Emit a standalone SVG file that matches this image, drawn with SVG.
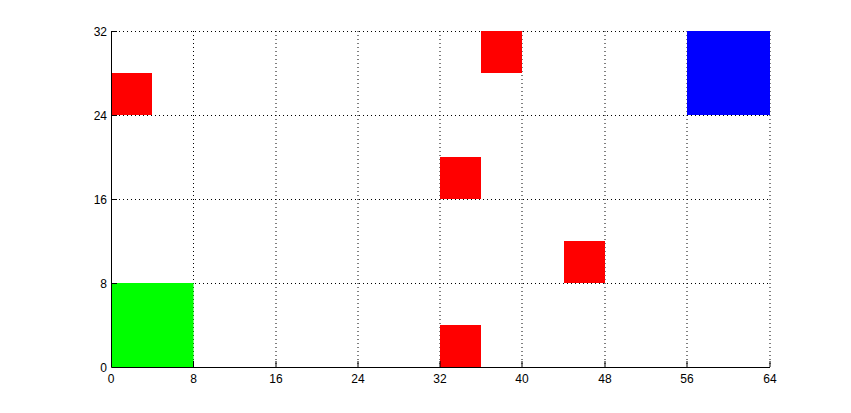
<svg xmlns="http://www.w3.org/2000/svg" width="851" height="413" viewBox="0 0 851 413">
<style>
.grid{stroke:#000;stroke-width:1;stroke-dasharray:1 3;fill:none}
.ax{stroke:#000;stroke-width:1;fill:none}
.t{font-family:"Liberation Sans",Arial,sans-serif;font-size:12px;fill:#000}
.r{fill:#ff0000}
</style>
<rect width="851" height="413" fill="#fff"/>
<g id="grid">
<path class="grid" d="M193.5 31V367M276 31V367M358 31V367M440 31V367M522 31V367M605 31V367M687 31V367M770 31V367"/>
<path class="grid" d="M111 31.5H770M111 115.5H770M111 199.5H770M111 283.5H770"/>
</g>
<g id="cells">
<rect id="green" x="111" y="283" width="82.5" height="84" fill="#00ff00"/>
<rect id="blue" x="687" y="31" width="83" height="84" fill="#0000ff"/>
<rect id="red1" class="r" x="111" y="73" width="41" height="42"/>
<rect id="red2" class="r" x="481" y="31" width="41" height="42"/>
<rect id="red3" class="r" x="440" y="157" width="41" height="42"/>
<rect id="red4" class="r" x="564" y="241" width="41" height="42"/>
<rect id="red5" class="r" x="440" y="325" width="41" height="42"/>
</g>
<g id="axes">
<path class="ax" d="M111.5 31V367.5H770"/>
<path class="ax" d="M193.5 367V361M276 367V361M358 367V361M440 367V361M522 367V361M605 367V361M687 367V361M770 367V361"/>
<path class="ax" d="M111 31.5H117M111 115.5H117M111 199.5H117M111 283.5H117"/>
</g>
<g id="labels" class="t">
<g text-anchor="middle">
<text x="111" y="383">0</text>
<text x="193.5" y="383">8</text>
<text x="276" y="383">16</text>
<text x="358" y="383">24</text>
<text x="440" y="383">32</text>
<text x="522" y="383">40</text>
<text x="605" y="383">48</text>
<text x="687" y="383">56</text>
<text x="770" y="383">64</text>
</g>
<g text-anchor="end">
<text x="107" y="372">0</text>
<text x="107" y="288">8</text>
<text x="107" y="204">16</text>
<text x="107" y="120">24</text>
<text x="107" y="36">32</text>
</g>
</g>
</svg>
